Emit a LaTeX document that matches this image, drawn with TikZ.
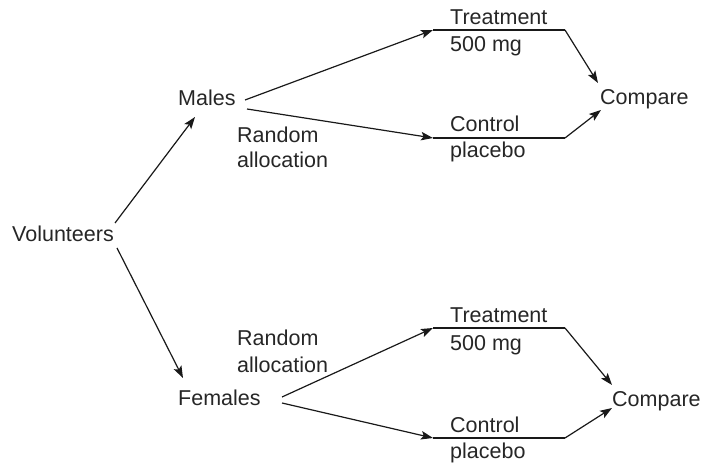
\documentclass[tikz,border=0pt]{standalone}
\usepackage{fontspec}
\setmainfont{Liberation Sans}
\usetikzlibrary{arrows.meta}
\begin{document}
\begin{tikzpicture}[x=1pt,y=1pt,
  lbl/.style={anchor=base west,inner sep=0pt,font=\fontsize{21.5}{25}\selectfont,text=black!85},
  conn/.style={line width=1.2pt,draw=black!90},
  arr/.style={conn,-{Stealth[length=12pt,width=8.5pt,inset=2.5pt]}}]
\useasboundingbox (0,0) rectangle (706,466);
% text nodes
\node[lbl] (vol) at (12,224) {Volunteers};
\node[lbl] (males) at (178,360) {Males};
\node[lbl] (rand1) at (237,323) {Random};
\node[lbl] (alloc1) at (237,298) {allocation};
\node[lbl] (treat1) at (450,441) {Treatment};
\node[lbl] (dose1) at (450,414) {500 mg};
\node[lbl] (ctrl1) at (450,334) {Control};
\node[lbl] (plac1) at (450,308) {placebo};
\node[lbl] (cmp1) at (600,361) {Compare};
\node[lbl] (fem) at (178,61) {Females};
\node[lbl] (rand2) at (237,121) {Random};
\node[lbl] (alloc2) at (237,94) {allocation};
\node[lbl] (treat2) at (450,143) {Treatment};
\node[lbl] (dose2) at (450,116) {500 mg};
\node[lbl] (ctrl2) at (450,34) {Control};
\node[lbl] (plac2) at (450,8) {placebo};
\node[lbl] (cmp2) at (612,60) {Compare};
% connector points
\coordinate (vU) at (115,243);
\coordinate (vD) at (117,218);
\coordinate (mIn) at (195,349);
\coordinate (fIn) at (183,88);
\coordinate (mT) at (245,366);
\coordinate (mC) at (247,357);
\coordinate (fT) at (282,69);
\coordinate (fC) at (282,63);
\coordinate (t1a) at (433,436);
\coordinate (t1b) at (565,436);
\coordinate (c1a) at (433,328);
\coordinate (c1b) at (565,328);
\coordinate (t2a) at (433,138);
\coordinate (t2b) at (565,138);
\coordinate (c2a) at (433,28);
\coordinate (c2b) at (565,28);
\coordinate (cmp1T) at (598,383);
\coordinate (cmp1C) at (601,356);
\coordinate (cmp2T) at (612,81);
\coordinate (cmp2C) at (612,58);
% connectors
\draw[arr] (vU) -- (mIn);
\draw[arr] (vD) -- (fIn);
\draw[arr] (mT) -- (t1a);
\draw[arr] (mC) -- (c1a);
\draw[arr] (fT) -- (t2a);
\draw[arr] (fC) -- (c2a);
\draw[conn] (t1a) -- (t1b);
\draw[conn] (c1a) -- (c1b);
\draw[conn] (t2a) -- (t2b);
\draw[conn] (c2a) -- (c2b);
\draw[arr] (t1b) -- (cmp1T);
\draw[arr] (c1b) -- (cmp1C);
\draw[arr] (t2b) -- (cmp2T);
\draw[arr] (c2b) -- (cmp2C);
\end{tikzpicture}
\end{document}
